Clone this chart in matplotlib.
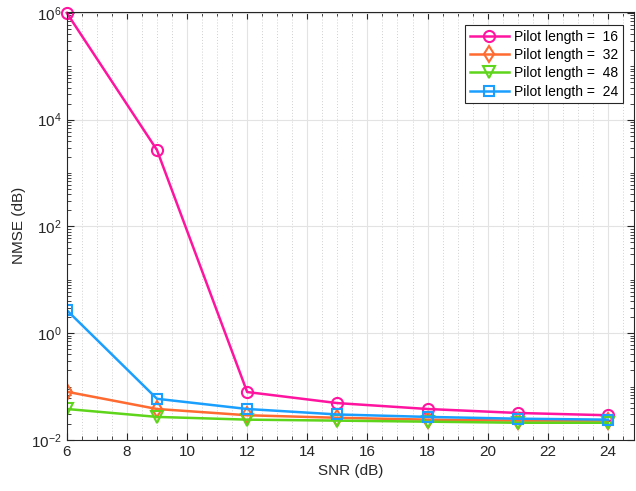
import matplotlib.pyplot as plt
from matplotlib.ticker import LogLocator, MultipleLocator, NullFormatter

snr = [6, 9, 12, 15, 18, 21, 24]
nmse_16 = [1.0e6, 2700, 0.079, 0.049, 0.038, 0.032, 0.029]
nmse_32 = [0.080, 0.038, 0.029, 0.026, 0.024, 0.023, 0.023]
nmse_48 = [0.038, 0.027, 0.024, 0.023, 0.022, 0.021, 0.021]
nmse_24 = [2.7, 0.059, 0.038, 0.030, 0.027, 0.025, 0.024]

plt.rcParams['font.family'] = 'Liberation Sans'
plt.rcParams['font.size'] = 11

fig = plt.figure(figsize=(6.36, 4.91), dpi=100)
ax = fig.add_axes([0.105, 0.104, 0.892, 0.872])

ax.plot(snr, nmse_16, color='#FF14A0', marker='o', mfc='none', ms=8, mew=1.5, lw=1.8,
        label='Pilot length =  16', clip_on=False)
ax.plot(snr, nmse_32, color='#FF6A30', marker='d', mfc='none', ms=8, mew=1.5, lw=1.8,
        label='Pilot length =  32')
ax.plot(snr, nmse_48, color='#5ED41A', marker='v', mfc='none', ms=8, mew=1.5, lw=1.8,
        label='Pilot length =  48')
ax.plot(snr, nmse_24, color='#1A9FFF', marker='s', mfc='none', ms=7, mew=1.5, lw=1.8,
        label='Pilot length =  24')

ax.set_yscale('log')
ax.set_xlim(6, 24.87)
ax.set_ylim(1e-2, 1.05e6)
ax.xaxis.set_major_locator(MultipleLocator(2))
ax.xaxis.set_minor_locator(MultipleLocator(0.5))
ax.yaxis.set_major_locator(LogLocator(base=100))
ax.yaxis.set_minor_locator(LogLocator(base=10, subs=[1, 2, 3, 4, 5, 6, 7, 8, 9], numticks=20))
ax.yaxis.set_minor_formatter(NullFormatter())

ax.grid(True, which='major', color='#e3e3e3', lw=0.8)
ax.grid(True, which='minor', axis='x', color='#d0d0d0', lw=0.7, ls=(0, (1, 2)))
ax.set_axisbelow(True)

ax.tick_params(which='both', direction='in', top=True, right=True, colors='#262626')
ax.tick_params(which='major', length=5)
ax.tick_params(which='minor', length=3)
for s in ax.spines.values():
    s.set_color('#262626')

ax.set_xlabel('SNR (dB)', color='#262626')
ax.set_ylabel('NMSE (dB)', color='#262626')

leg = ax.legend(loc='upper right', bbox_to_anchor=(0.993, 0.985), fontsize=10,
                fancybox=False, edgecolor='#262626', framealpha=1,
                handlelength=2.8, borderpad=0.35, labelspacing=0.3, handletextpad=0.4)
leg.get_frame().set_linewidth(0.8)

fig.savefig('out.png', dpi=100)
